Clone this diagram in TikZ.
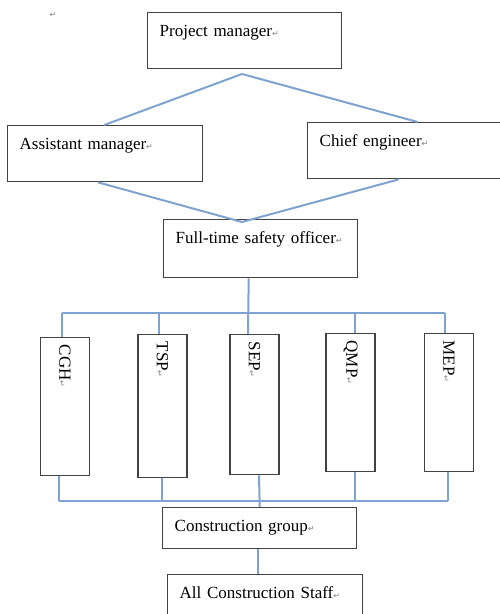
\documentclass[tikz,border=0pt]{standalone}
\usepackage{fontspec}
\setmainfont{Liberation Serif}
\newfontfamily\markfont{DejaVu Sans}
\usetikzlibrary{positioning,calc}
\definecolor{linkblue}{RGB}{127,163,208}
\definecolor{boxgray}{RGB}{66,66,66}
\newcommand{\retmark}{{\markfont\fontsize{8}{8}\selectfont\color{gray}↵}}

\begin{document}
\begin{tikzpicture}[x=1pt,y=-1pt,font=\fontsize{17}{20}\selectfont,
  box/.style={rectangle, draw=boxgray, line width=1.4pt, anchor=north west, align=left,
    inner xsep=12pt, inner ysep=12pt, text height=12pt},
  vbox/.style={rectangle, draw=boxgray, line width=1.4pt, rotate=-90, anchor=west, align=left,
    inner xsep=7pt, minimum height=49pt},
  link/.style={draw=linkblue, line width=2pt}]
\useasboundingbox (0,0) rectangle (499,614);

\node[font=\fontsize{9}{9}\selectfont] (stray) at (53,15) {\retmark};

% top boxes
\node[box, text width=170pt, text depth=20pt] (pm) at (147,12) {Project manager\retmark};
\node[box, text width=171pt, text depth=20pt] (am) at (7,125) {Assistant manager\retmark};
\node[box, text width=174pt, text depth=20pt] (ce) at (307,122) {Chief engineer\retmark};
\node[box, text width=170pt, text depth=22pt] (fso) at (163,219) {Full-time safety officer\retmark};

% vertical boxes
\node[vbox, text width=124pt] (cgh) at (65,337) {CGH\retmark};
\node[vbox, text width=129pt] (tsp) at (162.5,334) {TSP\retmark};
\node[vbox, text width=126pt] (sep) at (254.5,334) {SEP\retmark};
\node[vbox, text width=124pt] (qmp) at (350.5,333) {QMP\retmark};
\node[vbox, text width=124pt] (mep) at (449,333) {MEP\retmark};

% bottom boxes
\node[box, text width=170pt, text depth=5pt] (cg) at (162,507) {Construction group\retmark};
\node[box, text width=171pt, text depth=20pt] (acs) at (167,574) {All Construction Staff\retmark};

% connectors
\coordinate (pmfork) at (242,74);
\draw[link] ([xshift=-1pt]am.north) -- (pmfork) -- ([xshift=11pt]ce.north);
\coordinate (fsofork) at (242,222);
\draw[link] ([xshift=-7pt]am.south) -- (fsofork) -- ([xshift=-8pt]ce.south);
\draw[link] ([xshift=-12pt]fso.south) -- ([xshift=-6.5pt]sep.west);

\foreach \n/\x in {cgh/62,tsp/159,qmp/355,mep/445}{
  \coordinate (in\n) at (\x,313);
  \draw[link] (in\n) -- (in\n |- \n.west);
}
\draw[link] (incgh) -- (inmep);

\foreach \n/\x in {cgh/59,tsp/162,qmp/355,mep/448}{
  \coordinate (out\n) at (\x,501);
  \draw[link] (out\n |- \n.east) -- (out\n);
}
\draw[link] (outcgh) -- (outmep);
\draw[link] ([xshift=4.5pt]sep.east) -- (cg.north);
\draw[link] ([xshift=-2pt]cg.south) -- ([xshift=-7.5pt]acs.north);
\end{tikzpicture}
\end{document}
